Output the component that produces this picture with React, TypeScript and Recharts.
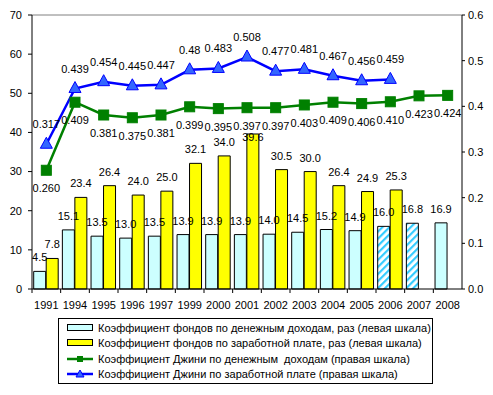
import React from "react";
import {
  Bar,
  Cell,
  ComposedChart,
  LabelList,
  Line,
  ReferenceLine,
  XAxis,
  YAxis,
} from "recharts";

const years = ["1991", "1994", "1995", "1996", "1997", "1999", "2000", "2001", "2002", "2003", "2004", "2005", "2006", "2007", "2008"];
const fundsIncome = [4.5, 15.1, 13.5, 13.0, 13.5, 13.9, 13.9, 13.9, 14.0, 14.5, 15.2, 14.9, 16.0, 16.8, 16.9];
const fundsWages = [7.8, 23.4, 26.4, 24.0, 25.0, 32.1, 34.0, 39.6, 30.5, 30.0, 26.4, 24.9, 25.3, null, null];
const giniIncome = [0.26, 0.409, 0.381, 0.375, 0.381, 0.399, 0.395, 0.397, 0.397, 0.403, 0.409, 0.406, 0.41, 0.423, 0.424];
const giniWages = [0.317, 0.439, 0.454, 0.445, 0.447, 0.48, 0.483, 0.508, 0.477, 0.481, 0.467, 0.456, 0.459, null, null];
// years whose income bar is hatched (estimate)
const hatchedYears = ["2006", "2007"];
const leftTicks = [0, 10, 20, 30, 40, 50, 60, 70];
const rightTicks = [0, 0.1, 0.2, 0.3, 0.4, 0.5, 0.6];

const legendItems = [
  { label: "Коэффициент фондов по денежным доходам, раз (левая шкала)", kind: "bar", color: "#CCFFFF" },
  { label: "Коэффициент фондов по заработной плате, раз (левая шкала)", kind: "bar", color: "#FFFF00" },
  { label: "Коэффициент Джини по денежным  доходам (правая шкала)", kind: "square", color: "#008000" },
  { label: "Коэффициент Джини по заработной плате (правая шкала)", kind: "triangle", color: "#0000FF" },
];

const data = years.map((year, i) => ({
  year,
  fundsIncome: fundsIncome[i],
  fundsWages: fundsWages[i],
  giniIncome: giniIncome[i],
  giniWages: giniWages[i],
}));

const FONT = "'Liberation Sans', Arial, sans-serif";

function YearTick(props: any) {
  const { x, y, payload } = props;
  const half = payload.offset ?? 430 / 15 / 2;
  return (
    <g>
      <line x1={x - half} x2={x - half} y1={y - 12} y2={y - 8} stroke="#000" />
      <text x={x} y={y} dy="0.71em" textAnchor="middle" fontSize={11} fill="#000" fontFamily={FONT}>
        {payload.value}
      </text>
    </g>
  );
}

function barLabel(props: any) {
  const { x, y, width, value } = props;
  if (value == null) return null;
  // the tallest bar's label sits on its top edge, clear of the Gini labels
  const ty = value > 35 ? y + 7 : y - 10;
  return (
    <text x={x + width / 2} y={ty} textAnchor="middle" fontSize={11} fill="#000" fontFamily={FONT}>
      {Number(value).toFixed(1)}
    </text>
  );
}

function giniIncomeLabel(props: any) {
  const { x, y, value } = props;
  if (value == null) return null;
  return (
    <text x={x} y={y + 22} textAnchor="middle" fontSize={11} fill="#000" fontFamily={FONT}>
      {Number(value).toFixed(3)}
    </text>
  );
}

function giniWagesLabel(props: any) {
  const { x, y, value } = props;
  if (value == null) return null;
  return (
    <text x={x} y={y - 16} textAnchor="middle" fontSize={11} fill="#000" fontFamily={FONT}>
      {String(value)}
    </text>
  );
}

function SquareDot(props: any) {
  const { cx, cy, value } = props;
  if (value == null || cx == null || cy == null) return null;
  return <rect x={cx - 5} y={cy - 5} width={10} height={10} fill="#008000" stroke="#008000" />;
}

function TriangleDot(props: any) {
  const { cx, cy, value } = props;
  if (value == null || cx == null || cy == null) return null;
  return (
    <polygon
      points={`${cx},${cy - 7} ${cx - 6},${cy + 4} ${cx + 6},${cy + 4}`}
      fill="#3366FF"
      stroke="#0000FF"
      strokeWidth={1}
    />
  );
}

function LegendIcon({ kind, color }: { kind: string; color: string }) {
  return (
    <svg width={27} height={10} style={{ display: "block" }}>
      {kind === "bar" && <rect x={0.5} y={1.5} width={25} height={6} fill={color} stroke="#000" />}
      {kind === "square" && (
        <>
          <line x1={0} x2={26} y1={5} y2={5} stroke={color} strokeWidth={2.5} />
          <rect x={10} y={2} width={6} height={6} fill={color} />
        </>
      )}
      {kind === "triangle" && (
        <>
          <line x1={0} x2={26} y1={5} y2={5} stroke={color} strokeWidth={2.5} />
          <polygon points="13,1 9,8 17,8" fill="#3366FF" stroke={color} />
        </>
      )}
    </svg>
  );
}

export default function App() {
  return (
    <div style={{ position: "absolute", left: 0, top: 0, width: 493, height: 395, background: "#fff", fontFamily: FONT }}>
      <ComposedChart
        width={493}
        height={395}
        data={data}
        margin={{ top: 15, right: 0, left: 0, bottom: 76 }}
        barCategoryGap={1.7}
        barGap={0.5}
      >
        <defs>
          <pattern id="hatch" patternUnits="userSpaceOnUse" width={5} height={5} patternTransform="rotate(45)">
            <rect x={0} y={0} width={5} height={5} fill="#fff" />
            <rect x={0} y={0} width={2.2} height={5} fill="#33CCFF" />
          </pattern>
        </defs>
        <XAxis
          dataKey="year"
          height={30}
          tick={YearTick}
          tickLine={false}
          tickSize={4}
          tickMargin={8}
          axisLine={{ stroke: "#000" }}
          interval={0}
        />
        <YAxis
          yAxisId="left"
          width={32}
          domain={[0, 70]}
          ticks={leftTicks}
          tickSize={4}
          tickMargin={6}
          tick={{ fontSize: 11, fill: "#000", fontFamily: FONT }}
          axisLine={{ stroke: "#000" }}
          tickLine={{ stroke: "#000" }}
          interval={0}
        />
        <YAxis
          yAxisId="right"
          orientation="right"
          width={31}
          domain={[0, 0.6]}
          ticks={rightTicks}
          tickSize={3}
          tickMargin={3}
          tickFormatter={(v) => Number(v).toFixed(1)}
          tick={{ fontSize: 11, fill: "#000", fontFamily: FONT }}
          axisLine={{ stroke: "#000" }}
          tickLine={{ stroke: "#000" }}
          interval={0}
        />
        <ReferenceLine yAxisId="left" y={70} stroke="#808080" strokeWidth={1} />
        <Bar yAxisId="left" dataKey="fundsIncome" fill="#CCFFFF" stroke="#000" strokeWidth={1} isAnimationActive={false}>
          {data.map((d) => (
            <Cell key={d.year} fill={hatchedYears.includes(d.year) ? "url(#hatch)" : "#CCFFFF"} />
          ))}
          <LabelList dataKey="fundsIncome" content={barLabel} />
        </Bar>
        <Bar yAxisId="left" dataKey="fundsWages" fill="#FFFF00" stroke="#000" strokeWidth={1} isAnimationActive={false}>
          <LabelList dataKey="fundsWages" content={barLabel} />
        </Bar>
        <Line
          yAxisId="right"
          dataKey="giniIncome"
          stroke="#008000"
          strokeWidth={2.5}
          dot={SquareDot}
          activeDot={false}
          isAnimationActive={false}
        >
          <LabelList dataKey="giniIncome" content={giniIncomeLabel} />
        </Line>
        <Line
          yAxisId="right"
          dataKey="giniWages"
          stroke="#0000FF"
          strokeWidth={2.5}
          dot={TriangleDot}
          activeDot={false}
          isAnimationActive={false}
        >
          <LabelList dataKey="giniWages" content={giniWagesLabel} />
        </Line>
      </ComposedChart>
      <div
        style={{
          position: "absolute",
          left: 58,
          top: 318,
          width: 373,
          height: 63,
          border: "1px solid #000",
          background: "#fff",
          paddingTop: 1,
          boxSizing: "content-box",
        }}
      >
        {legendItems.map((item) => (
          <div key={item.label} style={{ display: "flex", alignItems: "center", height: 15.5, paddingLeft: 8 }}>
            <LegendIcon kind={item.kind} color={item.color} />
            <span style={{ fontSize: 11, marginLeft: 4, whiteSpace: "pre", color: "#000" }}>{item.label}</span>
          </div>
        ))}
      </div>
    </div>
  );
}
